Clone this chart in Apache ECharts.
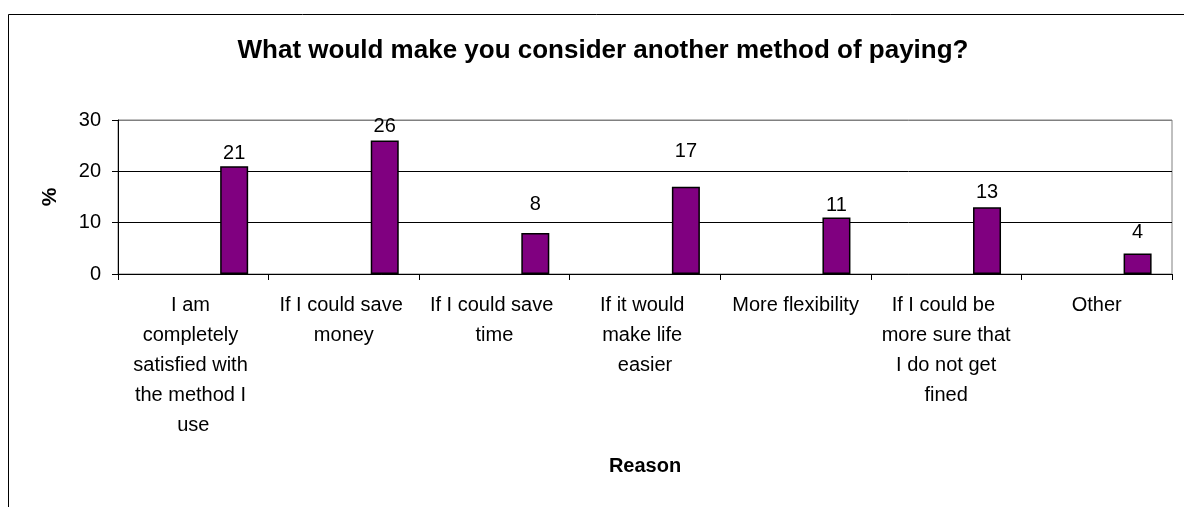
<!DOCTYPE html>
<html>
<head>
<meta charset="utf-8">
<script src="https://cdn.jsdelivr.net/npm/echarts@6/dist/echarts.min.js"></script>
<style>
  html, body { margin: 0; padding: 0; background: #fff; }
  #chart { width: 1184px; height: 507px; }
</style>
</head>
<body>
<div id="chart"></div>
<script>
// Survey answers and the share of respondents (%) for each
const reasons = [
  'I am completely satisfied with the method I use',
  'If I could save money',
  'If I could save time',
  'If it would make life easier',
  'More flexibility',
  'If I could be more sure that I do not get fined',
  'Other'
];
const percent = [21, 26, 8, 17, 11, 13, 4];
const yTicks = [0, 10, 20, 30];

// Extra lift of each value label above its bar (px)
const labelLift = [3, 4, 18, 25, 2, 5, 11];

const FONT = '"Liberation Sans", Arial, sans-serif';

const chart = echarts.init(document.getElementById('chart'), null, { renderer: 'canvas' });

chart.setOption({
  backgroundColor: '#ffffff',
  animation: false,
  title: {
    text: 'What would make you consider another method of paying?',
    left: 598,
    textAlign: 'center',
    top: 33,
    textStyle: { fontFamily: FONT, fontSize: 26, fontWeight: 'bold', color: '#000' }
  },
  grid: {
    left: 118, right: 12, top: 120, bottom: 233,
    show: true, borderColor: '#808080', borderWidth: 1, backgroundColor: '#fff'
  },
  xAxis: {
    type: 'category',
    data: reasons,
    name: 'Reason',
    nameLocation: 'middle',
    nameGap: 182,
    nameTextStyle: { fontFamily: FONT, fontSize: 20, fontWeight: 'bold', color: '#000' },
    axisLine: { lineStyle: { color: '#000', width: 1 } },
    axisTick: { show: true, length: 6, interval: 0, lineStyle: { color: '#000' } },
    axisLabel: {
      interval: 0,
      margin: 16,
      fontFamily: FONT,
      fontSize: 20,
      lineHeight: 30,
      color: '#000',
      width: 134,
      overflow: 'break',
      align: 'center'
    },
    splitLine: { show: false }
  },
  yAxis: {
    type: 'value',
    min: yTicks[0],
    max: yTicks[yTicks.length - 1],
    interval: yTicks[1] - yTicks[0],
    name: '%',
    nameLocation: 'middle',
    nameGap: 57,
    nameRotate: 90,
    nameTextStyle: { fontFamily: FONT, fontSize: 21, fontWeight: 'bold', color: '#000' },
    axisLine: { show: true, lineStyle: { color: '#000', width: 1 } },
    axisTick: { show: true, length: 6, lineStyle: { color: '#000' } },
    axisLabel: { margin: 17, fontFamily: FONT, fontSize: 20, color: '#000' },
    splitLine: { show: true, lineStyle: { color: ['#000', '#000', '#000', '#808080'], width: 1 } }
  },
  series: [
    {
      // empty slot that keeps each bar in the right-hand part of its category
      type: 'bar',
      name: 'slot',
      data: percent.map(() => null),
      barWidth: 28,
      barGap: '192%',
      silent: true
    },
    {
      type: 'bar',
      name: '%',
      data: percent.map((v, i) => ({
        value: v,
        label: { distance: labelLift[i] }
      })),
      barWidth: 28,
      barGap: '192%',
      itemStyle: { color: '#800080', borderColor: '#000', borderWidth: 1.5 },
      label: {
        show: true,
        position: 'top',
        fontFamily: FONT,
        fontSize: 20,
        color: '#000'
      }
    }
  ],
  graphic: [
    {
      type: 'polyline',
      shape: { points: [[8.5, 507], [8.5, 14.5], [1184, 14.5]] },
      style: { stroke: '#000', lineWidth: 1, fill: null },
      silent: true
    }
  ]
});
</script>
</body>
</html>
